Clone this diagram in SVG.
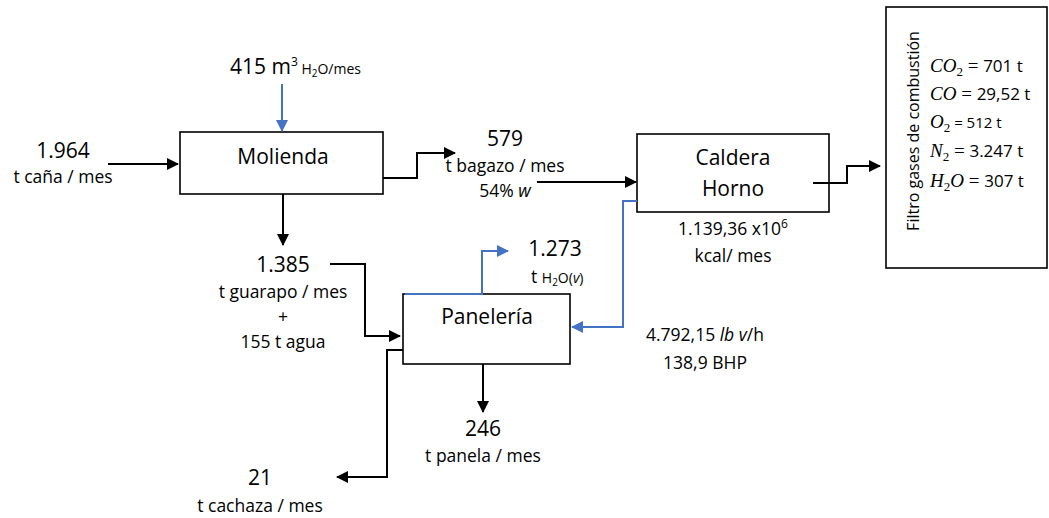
<svg xmlns="http://www.w3.org/2000/svg" width="1049" height="518" viewBox="0 0 1049 518">
<style>
text{font-family:"Open Sans","Noto Sans",sans-serif;fill:#000}
.big{font-size:21px}
.sub{font-size:17.5px}
.sm{font-size:14px}
.c{text-anchor:middle}
.box{fill:#fff;stroke:#000;stroke-width:1.6}
.k{fill:none;stroke:#000;stroke-width:2}
.b{fill:none;stroke:#4472C4;stroke-width:2}
.m{font-family:"Liberation Serif",serif;font-style:italic;font-size:19px}
.eq{font-family:"Liberation Serif",serif;font-size:19px}
.s2{font-family:"Liberation Serif",serif;font-size:13px}
</style>
<defs>
<marker id="ak" markerUnits="userSpaceOnUse" markerWidth="12" markerHeight="12" refX="11" refY="6" orient="auto"><path d="M0,0 L12,6 L0,12 z" fill="#000"/></marker>
<marker id="ab" markerUnits="userSpaceOnUse" markerWidth="12" markerHeight="12" refX="11" refY="6" orient="auto"><path d="M0,0 L12,6 L0,12 z" fill="#4472C4"/></marker>
</defs>
<g id="molienda"><rect class="box" x="180" y="132" width="203" height="62"/><text class="big c" x="283" y="164">Molienda</text></g>
<g id="caldera"><rect class="box" x="637" y="134" width="192" height="78"/><text class="big c" x="733" y="165">Caldera</text><text class="big c" x="733" y="196">Horno</text></g>
<g id="paneleria"><rect class="box" x="403" y="294" width="167" height="70"/><text class="big c" x="487" y="324">Panelería</text></g>
<g id="filtro"><rect class="box" x="886" y="7" width="161" height="261"/>
<text class="c" style="font-size:16px" transform="translate(919,131) rotate(-90)">Filtro gases de combustión</text>
<text x="930" y="72" style="font-size:17px"><tspan class="m">CO</tspan><tspan class="s2" dy="4">2</tspan><tspan class="eq" dy="-4"> = </tspan>701 t</text>
<text x="930" y="100" style="font-size:17px"><tspan class="m">CO</tspan><tspan class="eq"> = </tspan>29,52 t</text>
<text x="930" y="128" style="font-size:17px"><tspan class="m">O</tspan><tspan class="s2" dy="4">2</tspan><tspan dy="-4" style="font-size:15px"> = 512 t</tspan></text>
<text x="930" y="157" style="font-size:17px"><tspan class="m">N</tspan><tspan class="s2" dy="4">2</tspan><tspan class="eq" dy="-4"> = </tspan>3.247 t</text>
<text x="930" y="187" style="font-size:17px"><tspan class="m">H</tspan><tspan class="s2" dy="4">2</tspan><tspan class="m" dy="-4">O</tspan><tspan class="eq"> = </tspan>307 t</text>
</g>
<g id="connectors">
<path class="b" d="M282,84 V131" marker-end="url(#ab)"/>
<path class="k" d="M108,164 H178" marker-end="url(#ak)"/>
<path class="k" d="M383,178 H417 V153 H455" marker-end="url(#ak)"/>
<path class="k" d="M537,182 H636" marker-end="url(#ak)"/>
<path class="k" d="M813,183 H847 V166 H880" marker-end="url(#ak)"/>
<path class="b" d="M637,201 H623 V327 H572" marker-end="url(#ab)"/>
<path class="k" d="M283,194 V245" marker-end="url(#ak)"/>
<path class="k" d="M330,264 H365 V336 H400" marker-end="url(#ak)"/>
<path class="b" d="M405,294 H482 V251 H508" marker-end="url(#ab)"/>
<path class="k" d="M483,364 V412" marker-end="url(#ak)"/>
<path class="k" d="M403,350 H387 V477 H337" marker-end="url(#ak)"/>
</g>
<g id="labels">
<text x="230" y="74"><tspan class="big">415 m</tspan><tspan style="font-size:12px" dy="-8">3</tspan><tspan class="sm" dy="8"> H</tspan><tspan style="font-size:10px" dy="3">2</tspan><tspan class="sm" dy="-3">O/mes</tspan></text>
<text class="big c" x="63" y="158">1.964</text>
<text class="sub c" x="63" y="183">t caña / mes</text>
<text class="big c" x="505" y="146">579</text>
<text class="sub c" x="505" y="172">t bagazo / mes</text>
<text class="sub c" x="505" y="197">54% <tspan font-style="italic">w</tspan></text>
<text class="sub c" x="733" y="235">1.139,36 x10<tspan style="font-size:12px" dy="-7">6</tspan></text>
<text class="sub c" x="733" y="262">kcal/ mes</text>
<text class="big c" x="555" y="256">1.273</text>
<text x="531" y="283"><tspan class="sub">t </tspan><tspan class="sm">H</tspan><tspan style="font-size:10px" dy="3">2</tspan><tspan class="sm" dy="-3">O(<tspan font-style="italic">v</tspan>)</tspan></text>
<text class="big c" x="283" y="272">1.385</text>
<text class="sub c" x="283" y="298">t guarapo / mes</text>
<text class="sub c" x="283" y="323">+</text>
<text class="sub c" x="283" y="348">155 t agua</text>
<text class="sub c" x="705" y="341">4.792,15 <tspan font-style="italic">lb v</tspan>/h</text>
<text class="sub c" x="705" y="369">138,9 BHP</text>
<text class="big c" x="483" y="436">246</text>
<text class="sub c" x="483" y="462">t panela / mes</text>
<text class="big c" x="260" y="485">21</text>
<text class="sub c" x="260" y="512">t cachaza / mes</text>
</g>
</svg>
